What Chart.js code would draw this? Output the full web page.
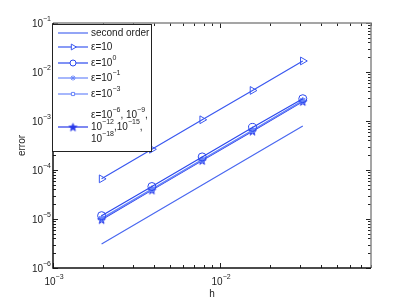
<!DOCTYPE html>
<html>
<head>
<meta charset="utf-8">
<script src="https://cdn.jsdelivr.net/npm/chart.js@4"></script>
<style>
  html, body { margin: 0; padding: 0; background: #fff; }
  #wrap { width: 409px; height: 303px; }
</style>
</head>
<body>
<div id="wrap"><canvas id="conv" width="409" height="303"></canvas></div>
<script>
'use strict';

// mesh sizes h = 1/512 ... 1/32
var hValues = [1 / 512, 1 / 256, 1 / 128, 1 / 64, 1 / 32];

// errors
var secondOrder = [3.1e-6, 1.24e-5, 4.95e-5, 1.98e-4, 7.9e-4];
var errEps10 = [6.6e-5, 2.65e-4, 1.06e-3, 4.2e-3, 1.68e-2];
var errEps1 = [1.17e-5, 4.6e-5, 1.85e-4, 7.4e-4, 2.85e-3];
var errEpsM1 = [1.03e-5, 4.1e-5, 1.63e-4, 6.5e-4, 2.62e-3];
var errEpsM3 = [1.0e-5, 4.0e-5, 1.6e-4, 6.4e-4, 2.56e-3];
var errEpsSmall = [9.7e-6, 3.9e-5, 1.56e-4, 6.2e-4, 2.5e-3];

// axis decades
var xTickExps = [-3, -2];
var yTickExps = [-6, -5, -4, -3, -2, -1];

var FONT = 'Liberation Sans, Arial, sans-serif';
var MINUS = '\u2212';

function toPoints(ys) {
  return hValues.map(function(h, i) { return { x: h, y: ys[i] }; });
}

// filled five-point star marker
function makePentagram(r, color) {
  var c = document.createElement('canvas');
  var s = Math.ceil(r * 2 + 2);
  c.width = s;
  c.height = s;
  var g = c.getContext('2d');
  var cx = s / 2, cy = s / 2 + 0.5;
  g.beginPath();
  for (var i = 0; i < 10; i++) {
    var rad = i % 2 === 0 ? r : r * 0.42;
    var a = -Math.PI / 2 + i * Math.PI / 5;
    var px = cx + rad * Math.cos(a), py = cy + rad * Math.sin(a);
    if (i === 0) g.moveTo(px, py); else g.lineTo(px, py);
  }
  g.closePath();
  g.fillStyle = color;
  g.fill();
  g.strokeStyle = color;
  g.lineWidth = 0.8;
  g.stroke();
  return c;
}

var starImg = makePentagram(4.2, '#2838e8');

var seriesDefs = [
  { label: 'second order', data: secondOrder, color: '#4a68f0', style: false },
  { label: 'eps10', data: errEps10, color: '#3a58f0', style: 'triangle', radius: 4.5, rotation: 90 },
  { label: 'eps1', data: errEps1, color: '#2a48ee', style: 'circle', radius: 4 },
  { label: 'epsm1', data: errEpsM1, color: '#6a86fa', style: 'star', radius: 3.5 },
  { label: 'epsm3', data: errEpsM3, color: '#6a86fa', style: 'rect', radius: 3 },
  { label: 'epssmall', data: errEpsSmall, color: '#2838e8', style: starImg, radius: 5 }
];

// legend text pieces: [text, superscript?]
var legendText = [
  [[['second order', false]]],
  [[['\u03b5=10', false]]],
  [[['\u03b5=10', false], ['0', true]]],
  [[['\u03b5=10', false], [MINUS + '1', true]]],
  [[['\u03b5=10', false], [MINUS + '3', true]]],
  [
    [['\u03b5=10', false], [MINUS + '6', true], [', 10', false], [MINUS + '9', true], [',', false]],
    [['10', false], [MINUS + '12', true], [',10', false], [MINUS + '15', true], [',', false]],
    [['10', false], [MINUS + '18', true]]
  ]
];

function drawParts(ctx, parts, x, y, size, align) {
  var supSize = Math.round(size * 0.72);
  var total = 0;
  parts.forEach(function(p) {
    ctx.font = (p[1] ? supSize : size) + 'px ' + FONT;
    total += ctx.measureText(p[0]).width;
  });
  var cx = align === 'right' ? x - total : align === 'center' ? x - total / 2 : x;
  ctx.textAlign = 'left';
  ctx.textBaseline = 'middle';
  parts.forEach(function(p) {
    ctx.font = (p[1] ? supSize : size) + 'px ' + FONT;
    ctx.fillText(p[0], cx, p[1] ? y - size * 0.45 : y);
    cx += ctx.measureText(p[0]).width;
  });
}

function drawMarker(ctx, def, x, y) {
  if (!def.style) return;
  ctx.save();
  ctx.strokeStyle = def.color;
  ctx.fillStyle = 'rgba(255,255,255,1)';
  ctx.lineWidth = 1;
  if (def.style instanceof HTMLCanvasElement) {
    ctx.drawImage(def.style, x - def.style.width / 2, y - def.style.height / 2);
  } else {
    Chart.helpers.drawPoint(ctx, {
      pointStyle: def.style, radius: def.radius * 0.75, rotation: def.rotation || 0, borderWidth: 1
    }, x, y);
  }
  ctx.restore();
}

var axesPlugin = {
  id: 'matlabAxes',
  afterDatasetsDraw: function(chart) {
    var ctx = chart.ctx;
    var a = chart.chartArea;
    var xs = chart.scales.x, ys = chart.scales.y;
    ctx.save();

    // ticks on all four sides
    ctx.strokeStyle = '#222';
    ctx.lineWidth = 1;
    ctx.beginPath();
    for (var e = -3; e <= -2; e++) {
      for (var m = 1; m <= 9; m++) {
        var v = m * Math.pow(10, e);
        if (v > xs.max) break;
        var px = Math.round(xs.getPixelForValue(v)) + 0.5;
        var len = m === 1 ? 5 : 3;
        ctx.moveTo(px, a.bottom); ctx.lineTo(px, a.bottom - len);
        ctx.moveTo(px, a.top); ctx.lineTo(px, a.top + len);
      }
    }
    for (var ey = -6; ey <= -1; ey++) {
      for (var my = 1; my <= 9; my++) {
        var vy = my * Math.pow(10, ey);
        if (vy > ys.max) break;
        var py = Math.round(ys.getPixelForValue(vy)) + 0.5;
        var leny = my === 1 ? 5 : 3;
        ctx.moveTo(a.left, py); ctx.lineTo(a.left + leny, py);
        ctx.moveTo(a.right, py); ctx.lineTo(a.right - leny, py);
      }
    }
    ctx.stroke();

    // frame
    ctx.strokeStyle = '#888';
    ctx.lineWidth = 1.5;
    ctx.beginPath();
    ctx.moveTo(a.left, a.top); ctx.lineTo(a.right, a.top); ctx.lineTo(a.right, a.bottom);
    ctx.stroke();
    ctx.strokeStyle = '#111';
    ctx.beginPath();
    ctx.moveTo(a.left, a.top); ctx.lineTo(a.left, a.bottom); ctx.lineTo(a.right, a.bottom);
    ctx.stroke();

    // tick labels
    ctx.fillStyle = '#222';
    yTickExps.forEach(function(ex) {
      var py = ys.getPixelForValue(Math.pow(10, ex));
      drawParts(ctx, [['10', false], [MINUS + (-ex), true]], a.left - 2, py + 1, 10, 'right');
    });
    xTickExps.forEach(function(ex) {
      var px = xs.getPixelForValue(Math.pow(10, ex));
      drawParts(ctx, [['10', false], [MINUS + (-ex), true]], px + 1, a.bottom + 14, 10, 'center');
    });

    // axis titles
    ctx.font = '10px ' + FONT;
    ctx.textAlign = 'center';
    ctx.textBaseline = 'middle';
    ctx.fillText('h', (a.left + a.right) / 2, a.bottom + 26);
    ctx.save();
    ctx.translate(22, (a.top + a.bottom) / 2);
    ctx.rotate(-Math.PI / 2);
    ctx.fillText('error', 0, 0);
    ctx.restore();

    // legend box
    var lx = 52, ly = 24, lw = 99, lh = 127;
    ctx.fillStyle = '#fff';
    ctx.fillRect(lx, ly, lw, lh);
    ctx.strokeStyle = '#222';
    ctx.lineWidth = 1;
    ctx.strokeRect(lx + 0.5, ly + 0.5, lw, lh);

    var rowY = [33, 47, 63, 78, 94, 127];
    seriesDefs.forEach(function(def, i) {
      var y = rowY[i];
      ctx.strokeStyle = def.color;
      ctx.lineWidth = 1.2;
      ctx.beginPath();
      ctx.moveTo(58, y); ctx.lineTo(88, y);
      ctx.stroke();
      drawMarker(ctx, def, 73, y);
      ctx.fillStyle = '#222';
      var lines = legendText[i];
      var startY = lines.length === 1 ? y : y - 12;
      lines.forEach(function(parts, k) {
        drawParts(ctx, parts, 91, startY + k * 12, 10, 'left');
      });
    });

    ctx.restore();
  }
};

var datasets = seriesDefs.map(function(def) {
  return {
    label: def.label,
    data: toPoints(def.data),
    borderColor: def.color,
    backgroundColor: def.style === 'circle' || def.style === 'triangle' || def.style === 'rect' ? 'rgba(255,255,255,0)' : def.color,
    borderWidth: 1.2,
    pointStyle: def.style || false,
    pointRadius: def.style ? def.radius : 0,
    pointRotation: def.rotation || 0,
    pointBorderWidth: 1,
    tension: 0
  };
});

new Chart(document.getElementById('conv'), {
  type: 'line',
  data: { datasets: datasets },
  plugins: [axesPlugin],
  options: {
    responsive: false,
    animation: false,
    layout: { padding: { left: 53, top: 23, right: 38, bottom: 35 } },
    plugins: { legend: { display: false }, tooltip: { enabled: false } },
    scales: {
      x: { type: 'logarithmic', min: 1e-3, max: 0.08, display: false },
      y: { type: 'logarithmic', min: 1e-6, max: 1e-1, display: false }
    }
  }
});
</script>
</body>
</html>
